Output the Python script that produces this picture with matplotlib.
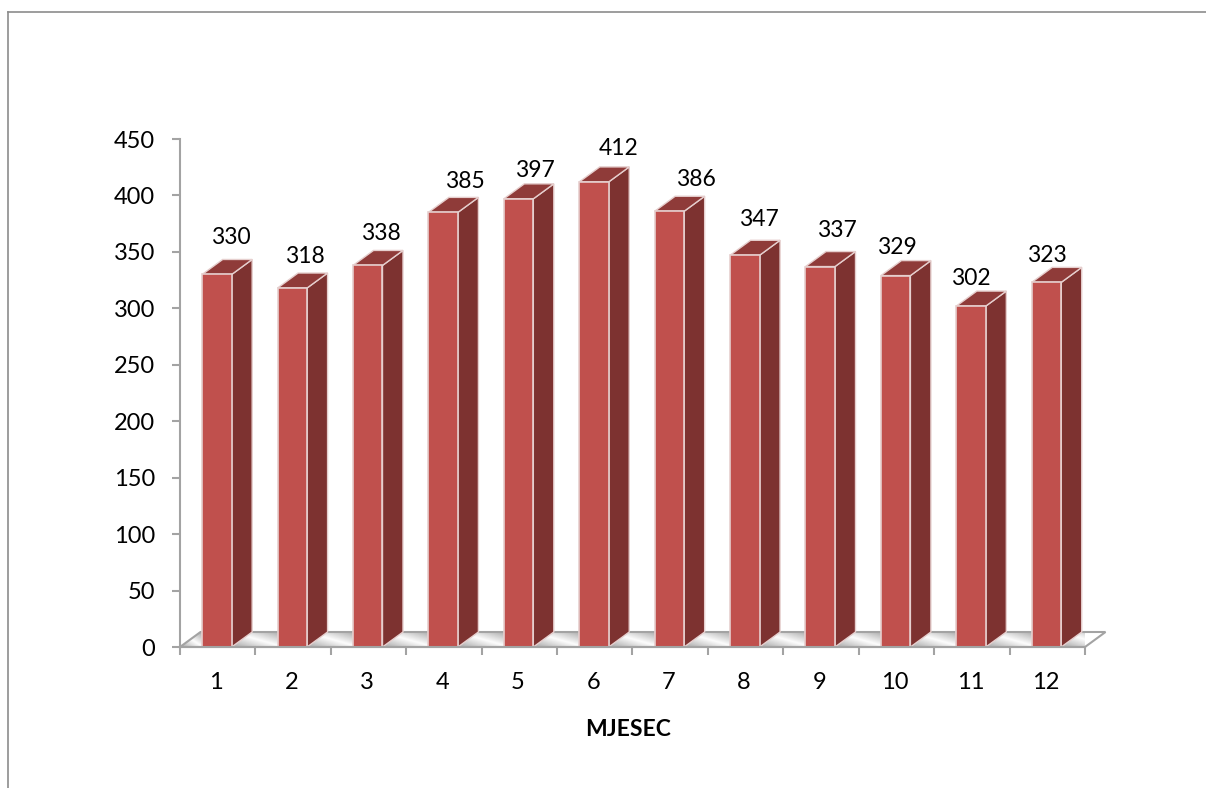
import numpy as np
import matplotlib
matplotlib.use("Agg")
import matplotlib.pyplot as plt
from matplotlib.patches import Polygon
from matplotlib.lines import Line2D

plt.rcParams['font.family'] = ['Lato', 'DejaVu Sans']

months = list(range(1, 13))
values = [330, 318, 338, 385, 397, 412, 386, 347, 337, 329, 302, 323]
yticks = [0, 50, 100, 150, 200, 250, 300, 350, 400, 450]
# label offset from top of bar, in pixels (placed by hand like in the original)
label_dx = [13, 12, 12, 21, 16, 24, 26, 13, 16, 0, -1, 0]
label_dy = [37, 32, 32, 31, 28, 33, 32, 36, 36, 28, 28, 27]

W, H = 1206, 788
fig = plt.figure(figsize=(W / 100, H / 100), dpi=100)
ax = fig.add_axes([180 / W, (H - 647) / H, 905 / W, 508 / H])

px_x = 12 / 905        # data units per pixel
px_y = 450 / 508
dx = 20.5 * px_x
dy = 15 * px_y
bar_w = 29.5 * px_x
shift = -0.8 * px_x

FRONT = '#c0504d'
SIDE = '#7d3230'
TOP = '#8f3b39'
EDGE = '#e6cfce'
GRAY = '#a3a3a3'

# floor, every gap between bars gets its own diagonal gradient
floor = Polygon([(0.5, 0), (12.5, 0), (12.5 + dx, dy), (0.5 + dx, dy)],
                closed=True, fc='none', ec=GRAY, lw=1.5, zorder=2, clip_on=False)
ax.add_patch(floor)
u, v = np.meshgrid(np.linspace(0, 1, 40), np.linspace(0, 1, 20))
shade = 0.66 + 0.33 * (1 - np.abs(u - v))
gap_left = [0.5] + [m + shift + bar_w / 2 for m in months]
gap_right = [m + shift - bar_w / 2 for m in months] + [12.5 + dx]
for x0, x1 in zip(gap_left, gap_right):
    if x0 != 0.5:
        x1 = x1 + dx * 0.2
    img = ax.imshow(shade, extent=(x0, x1, 0, dy), origin='upper', cmap='gray', vmin=0, vmax=1,
                    aspect='auto', zorder=1)
    img.set_clip_path(floor)
ax.set_xlim(0.5, 12.5)
ax.set_ylim(0, 450)

# bars
ax.bar([m + shift for m in months], values, width=bar_w, color=FRONT, edgecolor=EDGE,
       linewidth=1.2, zorder=4)
for m, v_, ldx, ldy in zip(months, values, label_dx, label_dy):
    xl = m + shift - bar_w / 2
    xr = m + shift + bar_w / 2
    ax.add_patch(Polygon([(xr, 0), (xr + dx, dy), (xr + dx, v_ + dy), (xr, v_)], closed=True,
                         fc=SIDE, ec=EDGE, lw=1.0, zorder=3, clip_on=False))
    ax.add_patch(Polygon([(xl, v_), (xr, v_), (xr + dx, v_ + dy), (xl + dx, v_ + dy)], closed=True,
                         fc=TOP, ec=EDGE, lw=1.0, zorder=3, clip_on=False))
    ax.text(m + ldx * px_x, v_ + ldy * px_y, str(v_), ha='center', va='center',
            fontsize=16.5, color='black', zorder=6)

# axes
for s in ['top', 'right']:
    ax.spines[s].set_visible(False)
for s in ['left', 'bottom']:
    ax.spines[s].set_color(GRAY)
    ax.spines[s].set_linewidth(1.5)
    ax.spines[s].set_zorder(5)
ax.set_yticks(yticks)
ax.set_xticks(np.arange(0.5, 13))
ax.set_xticklabels([])
ax.set_xticks([m - 1.5 * px_x for m in months], minor=True)
ax.set_xticklabels(months, minor=True)
ax.tick_params(axis='both', which='major', length=6, width=1.5, color=GRAY)
ax.tick_params(axis='x', which='minor', length=0, pad=18)
ax.tick_params(axis='both', which='both', labelsize=17, labelcolor='black')
ax.tick_params(axis='y', pad=12)
ax.patch.set_visible(False)

fig.text(628 / W, 1 - 729 / H, 'MJESEC', ha='center', va='center', fontsize=16.5,
         fontweight='bold', color='black')

# page frame, top and left only
fig.add_artist(Line2D([8 / W, 1], [1 - 12 / H, 1 - 12 / H], color='#8c8c8c', lw=1.2))
fig.add_artist(Line2D([8 / W, 8 / W], [1 - 12 / H, 0], color='#8c8c8c', lw=1.2))

fig.savefig('out.png', dpi=100)
